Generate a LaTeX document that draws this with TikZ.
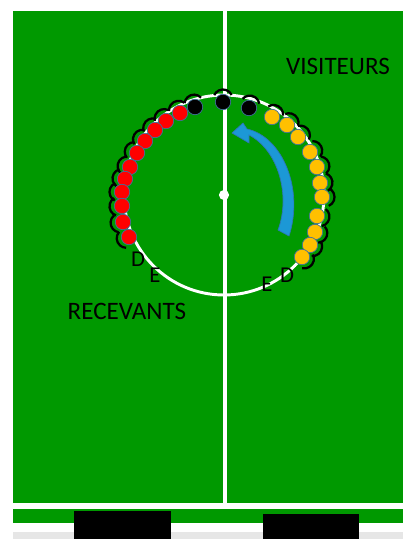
\documentclass[tikz,border=0pt]{standalone}
\usepackage{fontspec}
\setmainfont{Carlito}
\definecolor{pitch}{RGB}{0,153,0}
\definecolor{outl}{RGB}{65,113,156}
\definecolor{redp}{RGB}{255,0,0}
\definecolor{yelp}{RGB}{255,192,0}
\definecolor{arrowfill}{RGB}{28,152,214}
\definecolor{arrowline}{RGB}{46,117,182}
\definecolor{stripgray}{RGB}{230,230,230}
\tikzset{
  bigtext/.style={font=\fontsize{18.8}{20}\selectfont, inner sep=0pt},
  lettertext/.style={font=\fontsize{17}{18}\selectfont, inner sep=0pt},
  hook/.style={black, line width=1.7pt},
  ball/.style={draw=outl, line width=0.5pt},
}
\begin{document}
\begin{tikzpicture}[x=0.75pt,y=-0.75pt]
\useasboundingbox (0,0) rectangle (403,539);
\fill[white] (0,0) rectangle (403,539);
% field
\fill[pitch] (13,11) rectangle (403,503);
\fill[pitch] (13,509) rectangle (403,523);
\fill[stripgray] (13,532) rectangle (403,539);
\fill[black] (74,511) rectangle (171,539);
\fill[black] (263,514) rectangle (359,539);
% lines
\draw[white, line width=3pt] (224.5,11) -- (224.5,503);
\draw[white, line width=2.2pt] (224,195) circle[radius=75pt];
\fill[white] (224,195) circle[radius=3.8pt];
% blue curved arrow
\filldraw[fill=arrowfill, draw=arrowline, line width=0.5pt]
  (232,133) -- (243,123) -- (247,129)
  .. controls (283,137) and (304,190) .. (289,236)
  -- (278,230)
  .. controls (291,195) and (278,150) .. (249,135)
  -- (249,143) -- cycle;
% players: hooks and balls
\foreach \px/\py/\c in {
  195/107/black, 223/102/black, 249/108/black,
  180/113/redp, 166/121/redp, 155/130/redp, 145/141/redp, 137/153/redp,
  130/167/redp, 125/179/redp, 122/192/redp, 122/206/redp, 123/222/redp, 129/237/redp,
  272/117/yelp, 287/125/yelp, 298/137/yelp, 310/152/yelp, 317/167/yelp,
  320/183/yelp, 322/197/yelp, 317/216/yelp, 315/232/yelp, 310/245/yelp, 302/257/yelp}{
  \pgfmathsetmacro\ang{atan2(195-\py,\px-224)}
  \draw[hook] (\px,\py) ++(\ang:2.2pt) ++(\ang-65:7.2pt)
    arc[start angle=\ang-65, end angle=\ang+65, radius=7.2pt];
  \filldraw[ball, fill=\c] (\px,\py) circle[radius=5.8pt];
}
% labels
\node[bigtext] (vis) at (338,66) {VISITEURS};
\node[bigtext] (rec) at (127,311) {RECEVANTS};
\node[lettertext] (dl) at (138,259) {D};
\node[lettertext] (el) at (155,275) {E};
\node[lettertext] (er) at (267,284) {E};
\node[lettertext] (dr) at (287,275) {D};
\end{tikzpicture}
\end{document}
